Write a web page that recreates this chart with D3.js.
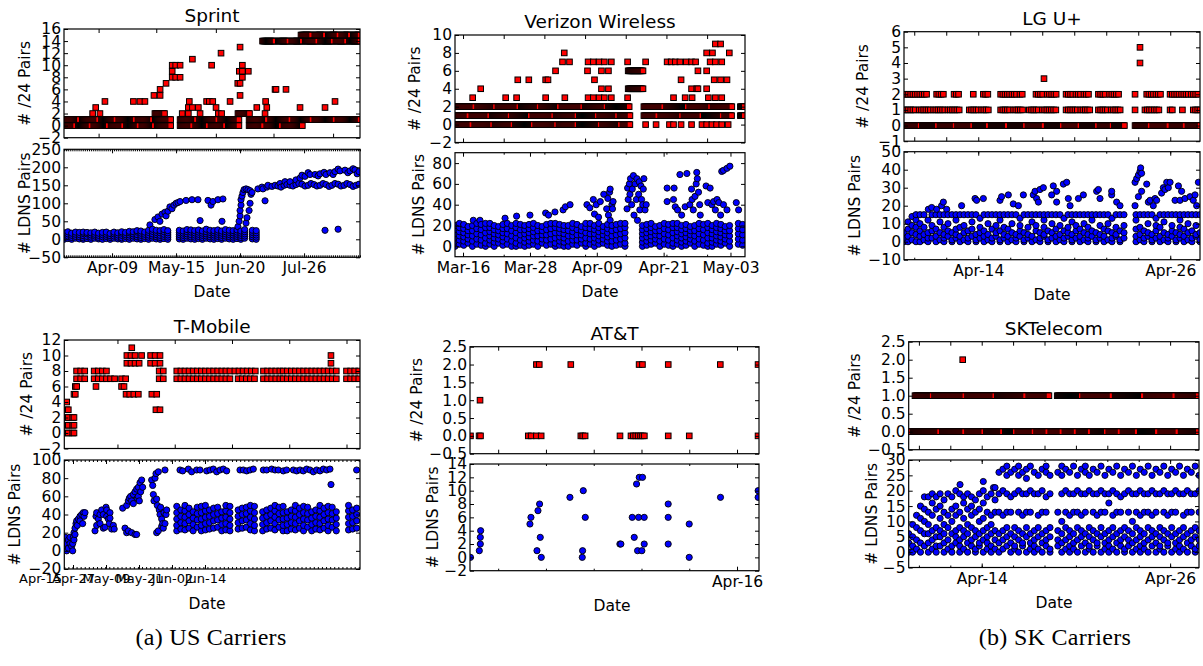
<!DOCTYPE html>
<html><head><meta charset="utf-8">
<script src="https://cdn.jsdelivr.net/npm/d3@7"></script>
<style>html,body{margin:0;padding:0;background:#fff;}svg{display:block;}</style>
</head><body>
<script>
// ======================= DATA (x in days from each panel's left edge) =======================
// ---- Sprint ----
const sprintPairsSample = 0.5;
const sprintPairsBandValues = [0, 1, 2, 14, 15];
const sprintPairsBandRuns = [
  [[0,6],[7.5,14],[15.5,23],[24.5,31],[32.5,39],[40.5,47],[48.5,55.5],[60.4,67],[68.5,75],[76.5,84],[85.5,91.3],[96.3,104],[105.5,113],[114.5,124.4]],
  [[0,8],[9.5,18],[19.5,27],[28.5,37],[38.5,46],[47.5,55.5],[60.4,69],[70.5,80],[81.5,91.3],[96.3,106],[107.5,118],[119.5,129],[130.5,141],[142.5,154]],
  [[47.3,52.5],[90.5,96.8]],
  [[103.3,110],[111.5,117],[118.5,124],[125.5,132],[133.5,140],[141.5,147],[148.5,154]],
  [[123.3,129],[130.5,136],[137.5,143],[144.5,149],[150.5,154]]
];
const sprintPairsPoints = [
  [14.9,2],[18.7,2],[61.5,2],[64.7,2],[70.8,2],[80.3,2],[82,2],[104.6,2],
  [16.5,3],[21.3,4],[36.1,4],[39.5,4],[42.1,4],[46.8,5],[50,5],[50,6],[53.1,7],
  [56.3,8],[56.3,9],[56.3,10],[58.1,8],[58.1,10],[60.4,8],[60.4,10],
  [64.7,3],[65.2,4],[66.8,3],[66.8,11],[69.9,3],[74.2,4],[75.6,4],[76.8,10],[77.4,4],[79.1,3],[81.7,12],[86.4,4],
  [90.4,7],[91.2,9],[91.6,5],[91.6,7],[91.6,13],[92.8,8],[92.8,9],[92.8,10],[95.9,9],
  [100.3,3],[104.9,4],[105.5,3],[109.8,6],[110.3,6],[115.5,6],[122.8,3],[135.8,3],[141,4]
];
const sprintLdnsColStart = 0, sprintLdnsColStep = 2;
const sprintLdnsCols = [
  "0 6 12 18","2 9 15 21","0 5 11 17","3 8 14 20","1 7 13 19","0 4 10 16 20","2 8 15 19","0 6 12 18",
  "3 9 14 20","1 5 11 17","0 7 13 19","2 8 14 20","0 5 10 16","3 9 15 20","1 6 12 18","0 4 11 17 21",
  "2 8 13 19","0 6 12 18 22","3 9 15 21","1 7 13 20 24","0 5 11 17 23","2 8 14 20","0 6 12 19 25","3 9 15 22 28",
  "1 7 13 19 25","0 5 11 18 24","2 8 14 21 27","0 6 12 18 24","","","1 7 13 19 25","0 5 11 17 23",
  "3 9 15 21 27","1 7 13 20 26","0 6 12 18 24","2 8 14 20 26","0 5 11 17 23","3 9 15 21 28","1 7 13 19 25","0 6 12 18 24",
  "2 8 14 20 26","0 5 11 17 23","3 9 15 21 27","1 7 13 19 25","0 6 12 18 24","2 8 14 20 26","0 5 11 17 23","3 9 15 21 27",
  "","1 7 13 19 25","0 6 12 18 24"
];
const sprintLdnsPoints = [
  [44.7,40],[47.3,55],[48.9,62],[49.9,50],[51,70],[52.5,75],[53.1,65],[54.1,78],[55.1,90],[56.2,85],[57.2,95],[58.3,100],[59.3,102],[60.4,105],
  [63.5,108],[66.6,110],[69.7,110],[70.8,52],[74.9,108],[76.5,95],[77.5,105],[80.1,110],[82.7,112],[82.2,50],
  [90.5,35],[91.1,50],[91.6,65],[91.6,80],[92.1,95],[92.1,110],[92.6,120],[93.1,130],[93.7,138],[94.7,140],[95.7,138],[96.8,135],[96.8,100],
  [97.3,125],[96.3,80],[95.2,60],[94.7,45],[97.8,130],
  [100.9,140],[103,145],[103.5,140],[104.6,107],[105.6,145],[106.1,150],[112.4,155],[115,160],
  [108.2,147],[109.8,150],[111.3,148],[112.9,145],[114.5,150],[116,152],[117.6,150],[119.1,148],[120.7,152],[122.2,155],[123.8,153],
  [125.4,148],[127,150],[128.5,155],[130.1,152],[131.6,148],[133.2,150],[134.8,155],[136.3,152],[137.9,147],[139.4,150],[141,155],
  [142.6,153],[144.1,148],[145.7,150],[147.2,155],[148.8,152],[150.4,147],[151.9,150],[153.5,153],
  [117.6,160],[120.7,165],[122.8,170],[123.8,178],[125.4,175],[127,185],[128,180],[130.6,180],[132.2,176],[133.2,182],[135.3,186],
  [136.3,180],[138.4,185],[140,180],[141,188],[142.6,195],[143.6,190],[146.2,192],[147.7,185],[148.8,190],[150.4,196],[151.4,193],
  [152.5,182],[153.5,188],[135.8,25],[142.6,28]
];
const sprintMonthTicks = [18, 48, 79, 109, 140];
const sprintDateTicks = [25, 58.3, 91.6, 124.9];
const sprintDateLabels = ["Apr-09", "May-15", "Jun-20", "Jul-26"];

// ---- Verizon Wireless ----
const vzPairsSample = [0.17, 0.17, 0.17, 0.17, 0.17];
const vzPairsBandValues = [0, 1, 2, 4, 6];
const vzPairsBandRuns = [
  [[0,3],[3.4,6.5],[6.9,10],[10.4,13.5],[13.9,17.5],[17.9,21],[21.4,25],[25.4,28.5],[28.9,30.1]],
  [[0,2.5],[2.9,6],[6.4,9.5],[9.9,13],[13.4,17],[17.4,21],[21.4,24.5],[24.9,28],[28.4,30.1],[32.5,35],[35.4,39],[39.4,42.5],[42.9,46],[46.4,47.7],[49.1,49.9]],
  [[0,3.5],[3.9,7],[7.4,11],[11.4,14.5],[14.9,18],[18.4,22],[22.4,26],[26.4,30.1],[32.5,36],[36.4,40],[40.4,44],[44.4,47.7],[49.1,49.9]],
  [[29.8,32.4]],
  [[29.8,32.4]]
];
const vzPairsPoints = [
  [3.04,3],[8.72,3],[10.6,3],[15.6,3],[18.9,3],[22.9,3],[23.8,3],[24.8,3],[25.7,3],[26.9,3],[29.7,3],[37.6,3],[39.6,3],[40.8,3],[43.6,3],[44.8,3],[45.9,3],
  [4.42,4],[25.2,4],[26.4,4],[40.7,4],[41.6,4],[41.8,4],[43.3,4],
  [10.8,5],[12.7,5],[15.6,5],[16,5],[24,5],[38.9,5],[44.6,5],[45.7,5],[46.8,5],
  [17.3,6],[22.8,6],[25.2,6],[26.4,6],[41.8,6],[43.3,6],
  [18.5,7],[19.7,7],[22.9,7],[23.8,7],[24.8,7],[25.7,7],[26.9,7],[29.7,7],[32.8,7],[36.5,7],[37.2,7],[37.9,7],[38.7,7],[39.8,7],[40.7,7],[41.4,7],[43.9,7],[44.8,7],[45.9,7],
  [18.8,8],[43.3,8],[44.3,8],[47.2,8],[44.8,9],[45.7,9],
  [32.8,0],[34.6,0],[36.9,0],[37.6,0],[38.9,0],[40.7,0],[42.5,0],[43.3,0],[44.2,0],[45,0],[45.9,0],[47,0]
];
const vzLdnsColStart = 0, vzLdnsColStep = 0.75;
const vzLdnsCols = [
  "0 4 8 12 16 20","2 6 10 14 18 22","1 5 9 13 17 21","3 7 11 15 19","0 5 10 15 20","2 7 12 17 22","1 6 11 16 21","0 3 8 13 18 22",
  "2 6 10 14 18 22","0 4 8 12 16 20","3 7 11 15 19","1 5 9 13 17 21","2 7 12 17 22","0 5 10 15 20","0 3 8 13 18 22","1 6 11 16 21",
  "0 4 8 12 16 20","1 5 9 13 17 21","2 6 10 14 18 22","0 5 10 15 20","3 7 11 15 19","1 6 11 16 21","2 7 12 17 22","0 3 8 13 18 22",
  "1 5 9 13 17 21","0 4 8 12 16 20","0 5 10 15 20","2 6 10 14 18 22","1 6 11 16 21","3 7 11 15 19","0 3 8 13 18 22","2 7 12 17 22",
  "0 4 8 12 16 20","2 6 10 14 18 22","3 7 11 15 19","1 5 9 13 17 21","0 5 10 15 20","1 6 11 16 21","2 7 12 17 22","0 3 8 13 18 22",
  "","","",
  "0 4 8 12 16 20","1 5 9 13 17 21","2 6 10 14 18 22","3 7 11 15 19","0 5 10 15 20","2 7 12 17 22","1 6 11 16 21","0 3 8 13 18 22",
  "2 6 10 14 18 22","0 4 8 12 16 20","1 5 9 13 17 21","3 7 11 15 19","0 5 10 15 20","2 7 12 17 22","1 6 11 16 21","0 3 8 13 18 22",
  "0 4 8 12 16 20","2 6 10 14 18 22","1 5 9 13 17 21","3 7 11 15 19","0 5 10 15 20","","2 7 12 17 22","1 6 11 16 21"
];
const vzLdnsPoints = [
  [1.43,20],[3.15,25],[4.3,25],[8.61,27],[10.6,29],[12.9,30],[15.6,32],[16.1,30],[17.2,33],[18.6,35],[19,38],[19.8,40],
  [22.7,40],[23.2,37],[23.8,45],[24,31],[24.3,40],[24.7,28],[25,43],[25.6,50],[26.1,36],[26.3,46],[26.4,30],[26.6,52],[26.7,55],[27,40],[27.1,36],[27.2,43],[26.7,25],
  [29.6,36],[29.7,56],[29.8,45],[30,60],[30.1,50],[30.2,65],[30.4,40],[30.5,55],[30.7,68],[30.8,30],[31,60],[31.2,45],[31.3,65],[31.4,25],[31.6,50],[31.7,62],
  [31.8,35],[32,58],[32.1,45],[32.3,40],[32.4,55],[32.5,65],[32.7,35],[32.9,40],
  [36.5,43],[36.5,56],[37.7,56],[37.6,45],[37.9,38],[38.3,35],[38.7,69],[39,30],[39.6,38],[39.9,70],[40.4,40],[40.7,55],[40.8,45],[41,35],[41.3,48],
  [41.5,60],[41.6,71],[41.7,65],[41.9,52],[42.1,40],[42.2,30],
  [43.2,58],[43.5,42],[43.9,56],[44.2,40],[44.5,43],[44.8,35],[45.1,45],[45.4,42],[45.7,30],[45.9,72],[46.2,73],[46.8,75],[47.3,77],[48.4,42],[48.8,35],[46.2,40],[46.8,35]
];
const vzWeekTicks = [1.38, 8.38, 15.38, 22.38, 29.38, 36.38, 43.38];
const vzDateTicks = [1.38, 12.9, 24.4, 35.9, 47.4];
const vzDateLabels = ["Mar-16", "Mar-28", "Apr-09", "Apr-21", "May-03"];

// ---- LG U+ ----
const lgPairsSample = [0.0625, 0.14, 0.14];
const lgPairsBandValues = [0, 1, 2];
const lgPairsBandRuns = [
  [[0,1],[1.15,2.1],[2.25,3.2],[3.35,4.3],[4.45,5.3],[5.45,6.5],[6.65,7.6],[7.75,8.8],[8.95,9.9],[10.05,11],[11.15,12.1],[12.25,13],[13.15,13.8],[14.44,15.4],[15.55,16.6],[16.75,17.6],[17.75,18.5]],
  [[0,0.8],[0.95,1.7],[1.85,2.6],[2.75,3.5],[4.08,4.7],[4.85,5.38],[6.04,6.7],[6.85,7.46],[7.83,8.5],[8.65,9.6],[10.13,10.9],[11.05,11.63],[12.15,12.8],[12.95,13.6],[14.44,14.5],[15.06,15.5],[15.65,16],[16.63,16.83],[17.4,17.5],[18.08,18.5]],
  [[0,0.7],[0.85,1.42],[2.04,2.56],[3.13,3.54],[4.33,4.44],[4.96,5.33],[6.04,6.6],[6.75,7.1],[7.25,7.52],[8.25,8.8],[8.95,9.54],[10.13,10.6],[10.75,11.1],[11.25,11.58],[12.15,12.7],[12.85,13.5],[14.44,14.5],[15.17,15.6],[15.75,16.1],[16.63,17.2],[17.35,17.8],[17.95,18.5]]
];
const lgPairsPoints = [[8.75,3],[14.75,4],[14.75,5]];
const lgLdnsColStart = 0, lgLdnsColStep = 0.25;
const lgLdnsCols = [
  "0 2 5","0 3 7 11","1 5 9 14","0 4 8 12 15",
  "0 3 6 10 15","1 4 8 15","0 2 5 12","2 6 9 15","0 3 7 15","1 5 11 15","0 2 4 8 15","3 6 10 15","0 1 5 15","2 4 7 12 15",
  "0 3 8 15","1 5 9 15","0 2 6 15","3 7 11 15","0 1 4 15","2 5 8 13","0 3 6 15","1 4 10 15","0 2 7 15","3 5 9 15",
  "0 1 6 12 15","2 4 8 15","0 3 7 15","1 5 10 15","0 2 4 15","3 6 9 13","0 1 5 15","2 4 8 15","0 3 11 15","1 6 9 15",
  "0 2 5 15","3 4 8 12 15","0 1 6 15","2 5 10 15","0 3 7 15","1 4 9 15","0 2 6 13","3 5 8 15","0 1 4 11 15","2 6 9 15",
  "0 3 7 15","1 5 10 15","0 2 4 8 15","3 6 12 15","0 1 5 15","2 4 9 15","0 3 7 15","1 6 10 15","0 2 5 13","3 4 8 15",
  "0 1 6 15","2 5 9 15","","",
  "0 3 7 12 15","1 4 8 15","0 2 6 15","3 5 10 15","0 1 4 15","2 6 9 13","0 3 8 15","1 5 11 15","0 2 4 15","3 6 9 15",
  "0 1 5 15","2 4 8 12 15","0 3 7 15","1 5 10 15","0 2 6 15","3 4 9 15","0 1 5 15"
];
const lgLdnsPoints = [
  [1.52,18],[1.73,19],[2.04,18],[2.35,20],[2.46,22],[2.67,18],[3.6,20],[4.44,24],[4.54,23],[4.96,24],[6,23],[6.1,25],[6.52,26],[6.83,21],[7.15,20],
  [7.46,26],[8.08,26],[8.19,28],[8.29,24],[8.4,22],[8.5,29],[8.71,30],[9.23,26],[9.33,31],[9.54,28],[9.54,22],[9.96,32],[10.17,33],[10.27,24],[10.38,20],
  [10.9,24],[11.21,26],[12.04,28],[12.15,29],[12.25,24],[12.98,26],[12.98,28],[13.29,22],[13.5,20],[14.44,33],[14.54,35],[14.65,37],[14.75,39],[14.79,41],
  [14.85,38],[14.44,20],[14.65,25],[14.85,28],[15.17,32],[15.27,22],[15.38,23],[15.58,20],[15.69,24],[15.79,23],[16.1,27],[16.21,30],[16.31,29],[16.42,33],
  [16.52,30],[16.63,33],[16.94,23],[17.15,31],[17.25,23],[17.35,28],[17.56,24],[17.88,25],[18.08,23],[18.19,26],[18.4,33],[18.29,20]
];
const lgTwoDayTicks = [0.64, 2.64, 4.64, 6.64, 8.64, 10.64, 12.64, 14.64, 16.64];
const lgDateTicks = [4.64, 16.64];
const lgDateLabels = ["Apr-14", "Apr-26"];

// ---- T-Mobile ----
const tmoPairsSample = [1, 1];
const tmoPairsBandValues = [7, 8];
const tmoPairsBandRuns = [
  [[3,5],[7.3,12.3],[14,15],[23.2,25],[27.5,41.3],[42.5,47],[48.7,53],[53.5,66.5],[69,72]],
  [[3,5],[7.3,10.3],[23.2,25],[27.5,41.3],[41.7,46.7],[48.7,53],[53.5,66.5],[69,72]]
];
const tmoPairsPoints = [
  [0.59,0],[0.59,1],[0.59,2],[0.59,3],[0.59,4],[0.98,0],[0.98,1],[0.98,2],[0.98,3],[2.05,0],[2.05,1],[2.05,2],[2.37,0],[2.37,1],[2.37,2],[2.37,5],
  [2.69,5],[2.69,6],[3.03,6],[7.75,6],[14,6],[14.6,6],[15.1,5],[16,5],[17,5],[18.1,5],[15.3,9],[15.3,10],[16.3,9],[16.3,10],[16.5,11],[17.3,9],[17.3,10],
  [18.3,9],[18.9,10],[21.1,10],[21.1,9],[22.2,10],[22.2,9],[23.4,10],[23.4,9],[21.4,5],[22.6,5],[22.4,3],[23.4,3],[65.2,9],[65.2,10]
];
const tmoLdnsColStart = 27.5, tmoLdnsColStep = 1;
const tmoLdnsCols = [
  "22 28 35 42 49","24 31 38 45","23 30 37 44 50","25 33 40 47","22 29 36 43","26 34 41 48","22 28 35 42 49","23 30 37 44 50",
  "24 31 38 45","25 33 40 47","26 34 41 48","22 29 36 43","23 30 37 44 50","22 28 35 42 49","","24 31 38 45","25 33 40 47",
  "26 34 41 48","23 30 37 44 50","22 28 35 42 49","","22 29 36 43","24 31 38 45","25 33 40 47","23 30 37 44 50","26 34 41 48",
  "22 28 35 42 49","22 29 36 43","24 31 38 45","23 30 37 44 50","25 33 40 47","22 28 35 42 49","26 34 41 48","22 29 36 43",
  "24 31 38 45","23 30 37 44 50","25 33 40 47","22 28 35 42 49","26 34 41 48","22 29 36 43","","","23 30 37 44 50","24 31 38 45","25 33 40 47"
];
const tmoLdnsPoints = [
  [0.17,5],[0.17,10],[0.17,15],[0.58,0],[0.58,8],[0.99,12],[1.39,15],[1.8,5],[2.05,0],[2.05,8],[2.21,15],[2.37,20],[2.62,25],[2.86,30],[3.02,33],
  [3.19,28],[3.43,35],[3.84,38],[4.25,40],[4.49,30],[4.65,42],[4.82,38],[5.06,42],[3.84,33],[0.99,3],[1.39,8],[2.37,12],[2.62,18],
  [7.51,22],[7.75,38],[7.91,42],[8.32,35],[8.73,30],[9.14,45],[9.54,40],[9.95,26],[10.2,48],[10.36,38],[10.77,35],[11.01,30],[11.17,42],[11.58,24],
  [11.99,28],[7.91,28],[8.73,40],[9.54,25],[10.36,45],[11.17,36],[12.2,24],
  [14.27,47],[14.84,25],[15.25,20],[15.66,22],[16.47,20],[17.29,18],[17.69,18],[15.25,50],[15.66,55],[15.9,58],[16.23,60],[16.47,55],[16.88,62],
  [17.29,65],[17.69,68],[18.1,70],[18.51,75],[18.92,78],[17.86,58],[18.35,55],[18.67,65],[19.16,70],[16.88,52],[18.1,60],
  [21.36,78],[21.61,72],[21.77,62],[21.93,55],[22.18,80],[22.42,85],[22.58,57],[22.75,50],[22.99,87],[23.23,45],[23.4,40],[23.56,48],[23.81,35],
  [24.05,30],[24.21,25],[24.38,42],[24.62,89],[24.87,40],[22.58,20],[22.99,22],[23.81,27],[24.62,30],[25.03,45],
  [28.29,89],[28.94,88],[30.33,90],[31.14,87],[32.36,89],[33.18,89],[34.81,88],[35.62,89],[36.44,90],[37.25,87],[38.07,89],[38.88,90],[39.7,88],
  [42.96,89],[43.77,89],[44.59,88],[45.4,89],[46.22,90],[48.66,89],[49.48,89],[50.7,90],[51.52,89],[52.33,89],[53.55,88],[54.37,89],[56,89],
  [56.81,88],[57.63,89],[58.44,88],[59.26,90],[60.07,89],[60.89,87],[61.7,89],[62.52,88],[63.33,90],[64.15,89],[64.96,90],[65.21,73],[71.48,89]
];
const tmoTwoWeekTicks = [13, 27, 41, 55, 69];
const tmoDateTicks = [-5.94, 2.13, 10.2, 18.27, 26.33, 34.4];
const tmoDateLabels = ["Apr-15", "Apr-27", "May-09", "May-21", "Jun-02", "Jun-14"];

// ---- AT&T ----
const attPairsPoints = [
  [0.01,0],[0.19,0],[0.22,0],[0.21,1],[1.22,0],[1.28,0],[1.39,0],[1.49,0],[1.39,2],[1.45,2],[2.11,2],[2.32,0],[2.36,0],[2.41,0],[3.14,0],
  [3.37,0],[3.42,0],[3.47,0],[3.52,0],[3.57,0],[3.61,0],[3.65,0],[3.54,2],[3.61,2],[4.15,0],[4.15,2],[4.59,0],[5.24,2],[6.03,0],[6.03,2]
];
const attLdnsPoints = [
  [0.01,0],[0.195,1],[0.216,2],[0.216,3],[0.223,4],[1.255,5],[1.276,6],[1.402,1],[1.423,7],[1.457,8],[1.471,3],[1.492,0],[2.092,9],[2.35,0],
  [2.357,1],[2.371,10],[2.413,6],[3.138,2],[3.159,2],[3.396,6],[3.438,3],[3.487,11],[3.508,1],[3.529,6],[3.543,12],[3.598,1],[3.612,12],[3.647,6],
  [3.647,2],[4.149,8],[4.149,6],[4.149,2],[4.589,5],[4.589,0],[5.244,9],[6.032,10],[6.032,9]
];
const attDayTicks = [0.59, 1.59, 2.59, 3.59, 4.59, 5.59];
const attDateTicks = [5.59];
const attDateLabels = ["Apr-16"];

// ---- SKTelecom ----
const skPairsSample = [0.064, 0.064];
const skPairsBandValues = [0, 1];
const skPairsBandRuns = [
  [[0,0.15],[0.3,2],[2.15,3.6],[3.75,4.8],[4.95,6],[6.15,6.8],[6.95,8],[8.15,8.9],[9.05,9.8],[9.95,10.7],[10.85,11.6],[11.75,12.6],[12.75,13.5],[13.65,14.6],[14.75,15.9],[16.05,17.2],[17.35,18.49]],
  [[0.4,1.5],[1.65,3.6],[3.75,5.5],[5.65,7.5],[7.65,8.94],[9.46,11],[11.15,13],[13.15,15],[15.15,17],[17.15,18.49]]
];
const skPairsPoints = [[3.44,2]];
const skLdnsColStart = 0, skLdnsColStep = 0.25;
const skLdnsCols = [
  "0 3 6","0 2 5 9","1 4 8 12","0 3 7 11 15","2 6 10 14 18",
  "0 3 6 9 13 18","1 4 7 12 16 19","0 2 5 8 14 18","2 5 7 11 15 19","0 3 6 9 13 17","1 4 8 12 19","0 2 6 10 14 18","3 5 7 12 15 20",
  "0 2 4 8 13 19","1 5 7 11 16 18","0 3 6 9 14 19","2 4 8 12 15 18","0 1 5 7 13 17","2 3 6 10 14 19","0 4 7 11 16 20","1 3 5 8 13 18",
  "0 2 6 9 12 19","1 4 7 13 17 21",
  "0 3 6 13 19 26","1 4 7 12 20 27","2 5 8 13 19 25 28","0 3 6 13 18 26","1 2 5 8 19 27","0 4 7 13 20 25 28","2 3 6 12 19 26","0 5 8 13 19 24 27",
  "1 3 6 13 20 28","0 2 4 7 19 26","1 5 8 12 19 25","0 3 6 13 20 27","2 4 7 13 18 26 28","0 1 5 8 19 25",
  "",
  "2 4 7 13 26","0 3 6 10 19 25 28","1 4 8 13 20 27","0 2 5 7 12 19 26","1 3 6 13 19 28","0 4 8 13 20 25","2 5 7 12 19 27","0 3 6 13 19 26 28",
  "1 2 5 8 20 25","0 4 7 13 19 27","2 3 6 12 19 26","0 5 8 13 20 28","1 3 6 13 19 25","0 2 4 7 16 19 27","1 5 8 12 20 26","0 3 6 13 19 28",
  "2 4 7 13 18 25","0 1 5 8 19 27","2 4 7 13 20 26","0 3 6 10 19 28","1 4 8 13 19 25","0 2 5 7 12 20 27","1 3 6 13 19 26","0 4 8 13 19 28",
  "2 5 7 12 20 25","0 3 6 13 19 27","1 2 5 8 19 26","0 4 7 13 20 28","2 3 6 12 19 25","0 5 8 13 19 27","1 3 6 13 20 26","0 2 4 7 19 28",
  "1 5 8 12 19 25","0 3 6 13 20 27","2 4 7 13 19 26","0 1 5 8 19 28","2 4 7 13 20 25"
];
const skLdnsPoints = [[3.27,22],[4.75,23],[5.4,21]];
const skTwoDayTicks = [0.65, 2.65, 4.65, 6.65, 8.65, 10.65, 12.65, 14.65, 16.65];
const skDateTicks = [4.65, 16.65];
const skDateLabels = ["Apr-14", "Apr-26"];

// ---- y-axis ticks ----
const sprintPairsYTicks = [-2,0,2,4,6,8,10,12,14,16];
const sprintLdnsYTicks = [-50,0,50,100,150,200,250];
const vzPairsYTicks = [-2,0,2,4,6,8,10];
const vzLdnsYTicks = [0,20,40,60,80];
const lgPairsYTicks = [-1,0,1,2,3,4,5,6];
const lgLdnsYTicks = [-10,0,10,20,30,40,50];
const tmoPairsYTicks = [-2,0,2,4,6,8,10,12];
const tmoLdnsYTicks = [-20,0,20,40,60,80,100];
const attPairsYTicks = [-0.5,0,0.5,1,1.5,2,2.5];
const attLdnsYTicks = [-2,0,2,4,6,8,10,12,14];
const skPairsYTicks = [-0.5,0,0.5,1,1.5,2,2.5];
const skLdnsYTicks = [-5,0,5,10,15,20,25,30];

// ======================= HELPERS =======================
function bandPoints(values, runs, step) {
  const pts = [];
  values.forEach((v, k) => {
    const s = Array.isArray(step) ? step[k] : step;
    runs[k].forEach(([a, b]) => { for (let t = a; t <= b + 1e-9; t += s) pts.push([t, v]); });
  });
  return pts;
}
function colPoints(cols, start, step) {
  const pts = [];
  cols.forEach((s, i) => { if (s) s.split(" ").forEach(v => pts.push([start + i * step, +v])); });
  return pts;
}

// ======================= DRAWING =======================
const FONT = "'DejaVu Sans', 'Bitstream Vera Sans', sans-serif";
const FS = 15.5, TFS = 18.5;
const SQ = 5.6, CR = 3.1;
const svg = d3.select("body").append("svg").attr("width", 1203).attr("height", 666)
  .attr("font-family", FONT);
let clipN = 0;

function styleAxis(g, keepText, fs) {
  g.select(".domain").remove();
  g.attr("font-size", fs || FS).attr("font-family", FONT);
  g.selectAll("line").attr("stroke", "#000").attr("stroke-width", 1);
  if (keepText) g.selectAll("text").attr("fill", "#000");
  else g.selectAll("text").remove();
}

function subplot(o) {
  const x = d3.scaleLinear().domain(o.xDom).range([o.l, o.r]);
  const y = d3.scaleLinear().domain(o.yDom).range([o.b, o.t]);
  const id = "clip" + (clipN++);
  svg.append("clipPath").attr("id", id).append("rect")
    .attr("x", o.l).attr("y", o.t).attr("width", o.r - o.l).attr("height", o.b - o.t);
  const g = svg.append("g").attr("clip-path", `url(#${id})`);
  const pts = o.points.slice().sort((a, b) => a[0] - b[0]);
  if (o.kind === "sq") {
    g.selectAll("rect").data(pts).join("rect")
      .attr("x", d => x(d[0]) - SQ / 2).attr("y", d => y(d[1]) - SQ / 2)
      .attr("width", SQ).attr("height", SQ)
      .attr("fill", "#ff0000").attr("stroke", "#000").attr("stroke-width", 1);
  } else {
    g.selectAll("circle").data(pts).join("circle")
      .attr("cx", d => x(d[0])).attr("cy", d => y(d[1])).attr("r", CR)
      .attr("fill", "#0000ff").attr("stroke", "#000").attr("stroke-width", 0.9);
  }
  const fmt = d3.format(o.yFmt);
  svg.append("g").attr("transform", `translate(${o.l},0)`)
    .call(d3.axisLeft(y).tickValues(o.yTicks).tickFormat(fmt).tickSize(-4).tickSizeOuter(0).tickPadding(3))
    .call(styleAxis, true);
  svg.append("g").attr("transform", `translate(${o.r},0)`)
    .call(d3.axisRight(y).tickValues(o.yTicks).tickSize(-4).tickSizeOuter(0))
    .call(styleAxis, false);
  o.xTicks.forEach(spec => {
    const inside = v => v >= o.xDom[0] && v <= o.xDom[1];
    const vals = spec.labels ? spec.vals : spec.vals.filter(inside);
    const gb = svg.append("g").attr("transform", `translate(0,${o.b})`)
      .call(d3.axisBottom(x).tickValues(vals).tickSize(-spec.size).tickSizeOuter(0).tickPadding(5)
        .tickFormat(spec.labels ? (d => spec.labels[spec.vals.indexOf(d)]) : (() => "")))
      .call(styleAxis, !!spec.labels, spec.fs);
    gb.selectAll(".tick").filter(d => !inside(d)).select("line").remove();
    svg.append("g").attr("transform", `translate(0,${o.t})`)
      .call(d3.axisTop(x).tickValues(vals.filter(inside)).tickSize(-spec.size).tickSizeOuter(0))
      .call(styleAxis, false);
  });
  svg.append("rect").attr("x", o.l).attr("y", o.t).attr("width", o.r - o.l).attr("height", o.b - o.t)
    .attr("fill", "none").attr("stroke", "#000").attr("stroke-width", 1.2);
  svg.append("text").attr("transform", `translate(${o.ylabX},${(o.t + o.b) / 2}) rotate(-90)`)
    .attr("text-anchor", "middle").attr("dy", "0.35em").attr("font-size", FS).attr("fill", "#000").text(o.ylab);
}

function panel(p) {
  svg.append("text").attr("x", (p.l + p.r) / 2).attr("y", p.top[0] - 7).attr("text-anchor", "middle")
    .attr("font-size", TFS).attr("fill", "#000").text(p.title);
  subplot({l: p.l, r: p.r, t: p.top[0], b: p.top[1], xDom: p.xDom, yDom: p.pairsDom, yTicks: p.pairsTicks,
    yFmt: p.pairsFmt, points: p.pairs, kind: "sq", xTicks: [{vals: p.topTicks, size: 4}],
    ylab: "# /24 Pairs", ylabX: p.ylabTop});
  subplot({l: p.l, r: p.r, t: p.low[0], b: p.low[1], xDom: p.xDom, yDom: p.ldnsDom, yTicks: p.ldnsTicks,
    yFmt: p.ldnsFmt, points: p.ldns, kind: "ci",
    xTicks: [{vals: p.minorTicks, size: 2}, {vals: p.dateTicks, size: 4, labels: p.dateLabels, fs: p.dateFs}],
    ylab: "# LDNS Pairs", ylabX: p.ylabLow});
  svg.append("text").attr("x", p.dateX).attr("y", p.low[1] + 40).attr("text-anchor", "middle")
    .attr("font-size", FS).attr("fill", "#000").text("Date");
}

panel({title: "Sprint", l: 64, r: 360, top: [29, 137.7], low: [149.3, 257.3], xDom: [0, 154], dateX: 212,
  pairs: bandPoints(sprintPairsBandValues, sprintPairsBandRuns, sprintPairsSample).concat(sprintPairsPoints),
  ldns: colPoints(sprintLdnsCols, sprintLdnsColStart, sprintLdnsColStep).concat(sprintLdnsPoints),
  pairsDom: [-2, 16], pairsTicks: sprintPairsYTicks, pairsFmt: "d",
  ldnsDom: [-50, 250], ldnsTicks: sprintLdnsYTicks, ldnsFmt: "d",
  topTicks: sprintMonthTicks, minorTicks: d3.range(0, 155, 1), dateTicks: sprintDateTicks, dateLabels: sprintDateLabels,
  ylabTop: 25, ylabLow: 25});

panel({title: "Verizon Wireless", l: 455, r: 745, top: [35, 142.5], low: [152.7, 256.7], xDom: [0, 49.9], dateX: 600,
  pairs: bandPoints(vzPairsBandValues, vzPairsBandRuns, vzPairsSample).concat(vzPairsPoints),
  ldns: colPoints(vzLdnsCols, vzLdnsColStart, vzLdnsColStep).concat(vzLdnsPoints),
  pairsDom: [-2, 10], pairsTicks: vzPairsYTicks, pairsFmt: "d",
  ldnsDom: [-10, 90], ldnsTicks: vzLdnsYTicks, ldnsFmt: "d",
  topTicks: vzWeekTicks, minorTicks: vzWeekTicks, dateTicks: vzDateTicks, dateLabels: vzDateLabels,
  ylabTop: 415, ylabLow: 419});

panel({title: "LG U+", l: 904, r: 1200, top: [31.7, 141.2], low: [151.7, 259.7], xDom: [0, 18.5], dateX: 1052,
  pairs: bandPoints(lgPairsBandValues, lgPairsBandRuns, lgPairsSample).concat(lgPairsPoints),
  ldns: colPoints(lgLdnsCols, lgLdnsColStart, lgLdnsColStep).concat(lgLdnsPoints),
  pairsDom: [-1, 6], pairsTicks: lgPairsYTicks, pairsFmt: "d",
  ldnsDom: [-10, 50], ldnsTicks: lgLdnsYTicks, ldnsFmt: "d",
  topTicks: lgTwoDayTicks, minorTicks: lgTwoDayTicks, dateTicks: lgDateTicks, dateLabels: lgDateLabels,
  ylabTop: 863, ylabLow: 855});

panel({title: "T-Mobile", l: 64.3, r: 360, top: [340, 448.5], low: [460, 569], xDom: [0, 72.3], dateX: 207,
  pairs: bandPoints(tmoPairsBandValues, tmoPairsBandRuns, tmoPairsSample).concat(tmoPairsPoints),
  ldns: colPoints(tmoLdnsCols, tmoLdnsColStart, tmoLdnsColStep).concat(tmoLdnsPoints),
  pairsDom: [-2, 12], pairsTicks: tmoPairsYTicks, pairsFmt: "d",
  ldnsDom: [-20, 100], ldnsTicks: tmoLdnsYTicks, ldnsFmt: "d",
  topTicks: tmoTwoWeekTicks, minorTicks: d3.range(0, 73, 1), dateTicks: tmoDateTicks, dateLabels: tmoDateLabels, dateFs: 13,
  ylabTop: 27, ylabLow: 15});

panel({title: "AT&T", l: 470, r: 759, top: [346.7, 453.7], low: [464, 570.7], xDom: [0, 6.05], dateX: 612,
  pairs: attPairsPoints, ldns: attLdnsPoints,
  pairsDom: [-0.5, 2.5], pairsTicks: attPairsYTicks, pairsFmt: ".1f",
  ldnsDom: [-2, 14], ldnsTicks: attLdnsYTicks, ldnsFmt: "d",
  topTicks: attDayTicks, minorTicks: attDayTicks, dateTicks: attDateTicks, dateLabels: attDateLabels,
  ylabTop: 417, ylabLow: 433});

panel({title: "SKTelecom", l: 908.7, r: 1199, top: [341.7, 449.7], low: [460, 567.5], xDom: [0, 18.49], dateX: 1054,
  pairs: bandPoints(skPairsBandValues, skPairsBandRuns, skPairsSample).concat(skPairsPoints),
  ldns: colPoints(skLdnsCols, skLdnsColStart, skLdnsColStep).concat(skLdnsPoints),
  pairsDom: [-0.5, 2.5], pairsTicks: skPairsYTicks, pairsFmt: ".1f",
  ldnsDom: [-5, 30], ldnsTicks: skLdnsYTicks, ldnsFmt: "d",
  topTicks: skTwoDayTicks, minorTicks: skTwoDayTicks, dateTicks: skDateTicks, dateLabels: skDateLabels,
  ylabTop: 855, ylabLow: 872});

// captions
const captions = [["(a) US Carriers", 211], ["(b) SK Carriers", 1055]];
captions.forEach(([t, cx]) => svg.append("text").attr("x", cx).attr("y", 645).attr("text-anchor", "middle")
  .attr("font-family", "'Liberation Serif', 'DejaVu Serif', serif").attr("font-size", 24)
  .attr("letter-spacing", 0.3).attr("fill", "#000").text(t));
</script>
</body></html>
